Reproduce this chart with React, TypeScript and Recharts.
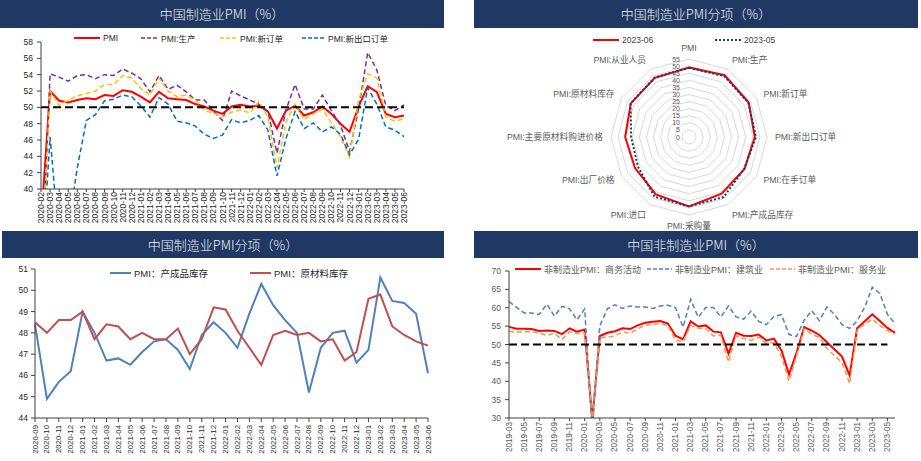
import React from 'react';
import {
  LineChart, Line, XAxis, YAxis, ReferenceLine,
  RadarChart, Radar, PolarGrid, PolarAngleAxis, PolarRadiusAxis,
} from 'recharts';

const FONT = '"Liberation Sans", Arial, "Noto Sans CJK SC", sans-serif';
const TITLE_FONT = '"Noto Sans CJK SC", "Liberation Sans", sans-serif';

// ---------- Panel 1: 中国制造业PMI ----------
const months1 = [
  '2020-02', '2020-03', '2020-04', '2020-05', '2020-06', '2020-07', '2020-08', '2020-09', '2020-10', '2020-11', '2020-12',
  '2021-01', '2021-02', '2021-03', '2021-04', '2021-05', '2021-06', '2021-07', '2021-08', '2021-09', '2021-10', '2021-11', '2021-12',
  '2022-01', '2022-02', '2022-03', '2022-04', '2022-05', '2022-06', '2022-07', '2022-08', '2022-09', '2022-10', '2022-11', '2022-12',
  '2023-01', '2023-02', '2023-03', '2023-04', '2023-05', '2023-06',
];
const pmi1 = [35.7, 52.0, 50.8, 50.6, 50.9, 51.1, 51.0, 51.5, 51.4, 52.1, 51.9, 51.3, 50.6, 51.9, 51.1, 51.0, 50.9, 50.4, 50.1, 49.6, 49.2, 50.1, 50.3, 50.1, 50.2, 49.5, 47.4, 49.6, 50.2, 49.0, 49.4, 50.1, 49.2, 48.0, 47.0, 50.1, 52.6, 51.9, 49.2, 48.8, 49.0];
const prod1 = [27.8, 54.1, 53.7, 53.2, 53.9, 54.0, 53.5, 54.0, 53.9, 54.7, 54.2, 53.5, 51.9, 53.9, 52.2, 52.7, 51.9, 50.9, 50.9, 49.5, 48.4, 52.0, 51.4, 50.9, 50.4, 49.5, 44.4, 49.7, 52.8, 49.8, 49.8, 51.5, 49.6, 47.8, 44.6, 49.8, 56.7, 54.6, 50.2, 49.6, 50.3];
const order1 = [29.3, 52.0, 50.2, 50.9, 51.4, 51.7, 52.0, 52.8, 52.8, 53.9, 53.6, 52.3, 51.5, 53.6, 52.0, 51.3, 51.5, 50.9, 49.6, 49.3, 48.8, 49.4, 49.7, 49.3, 50.7, 48.8, 42.6, 48.2, 50.4, 48.5, 49.2, 49.8, 48.1, 46.4, 43.9, 50.9, 54.1, 53.6, 48.8, 48.3, 48.6];
const export1 = [28.7, 46.4, 33.5, 35.3, 42.6, 48.4, 49.1, 50.8, 51.0, 51.5, 51.3, 50.2, 48.8, 51.2, 50.4, 48.3, 48.1, 47.7, 46.7, 46.2, 46.6, 48.5, 48.1, 48.4, 49.0, 47.2, 41.6, 46.2, 49.5, 47.4, 48.1, 47.0, 47.6, 46.7, 44.2, 46.1, 52.4, 50.4, 47.6, 47.2, 46.4];
const yTicks1 = [40, 42, 44, 46, 48, 50, 52, 54, 56, 58];

// ---------- Panel 2: 中国制造业PMI分项 (radar) ----------
const radarCats = ['PMI', 'PMI:生产', 'PMI:新订单', 'PMI:新出口订单', 'PMI:在手订单', 'PMI:产成品库存', 'PMI:采购量', 'PMI:进口', 'PMI:出厂价格', 'PMI:主要原材料购进价格', 'PMI:原材料库存', 'PMI:从业人员'];
const radarJun = [49.0, 50.3, 48.6, 46.4, 45.2, 46.1, 49.0, 46.8, 43.9, 45.0, 47.4, 48.2];
const radarMay = [48.8, 49.6, 48.3, 47.2, 44.9, 48.9, 48.9, 48.6, 41.6, 40.8, 47.6, 48.4];
const radarTicks = [0, 5, 10, 15, 20, 25, 30, 35, 40, 45, 50, 55];

// ---------- Panel 3: 产成品库存 / 原材料库存 ----------
const months3 = [
  '2020-09', '2020-10', '2020-11', '2020-12',
  '2021-01', '2021-02', '2021-03', '2021-04', '2021-05', '2021-06', '2021-07', '2021-08', '2021-09', '2021-10', '2021-11', '2021-12',
  '2022-01', '2022-02', '2022-03', '2022-04', '2022-05', '2022-06', '2022-07', '2022-08', '2022-09', '2022-10', '2022-11', '2022-12',
  '2023-01', '2023-02', '2023-03', '2023-04', '2023-05', '2023-06',
];
const finished3 = [48.4, 44.9, 45.7, 46.2, 49.0, 48.0, 46.7, 46.8, 46.5, 47.1, 47.6, 47.7, 47.2, 46.3, 47.9, 48.5, 48.0, 47.3, 48.9, 50.3, 49.3, 48.6, 48.0, 45.2, 47.3, 48.0, 48.1, 46.6, 47.2, 50.6, 49.5, 49.4, 48.9, 46.1];
const raw3 = [48.5, 48.0, 48.6, 48.6, 49.0, 47.7, 48.4, 48.3, 47.7, 48.0, 47.7, 47.7, 48.2, 47.0, 47.7, 49.2, 49.1, 48.1, 47.3, 46.5, 47.9, 48.1, 47.9, 48.0, 47.6, 47.7, 46.7, 47.1, 49.6, 49.8, 48.3, 47.9, 47.6, 47.4];
const yTicks3 = [44, 45, 46, 47, 48, 49, 50, 51];

// ---------- Panel 4: 中国非制造业PMI ----------
const months4 = [
  '2019-03', '2019-04', '2019-05', '2019-06', '2019-07', '2019-08', '2019-09', '2019-10', '2019-11', '2019-12',
  '2020-01', '2020-02', '2020-03', '2020-04', '2020-05', '2020-06', '2020-07', '2020-08', '2020-09', '2020-10', '2020-11', '2020-12',
  '2021-01', '2021-02', '2021-03', '2021-04', '2021-05', '2021-06', '2021-07', '2021-08', '2021-09', '2021-10', '2021-11', '2021-12',
  '2022-01', '2022-02', '2022-03', '2022-04', '2022-05', '2022-06', '2022-07', '2022-08', '2022-09', '2022-10', '2022-11', '2022-12',
  '2023-01', '2023-02', '2023-03', '2023-04', '2023-05', '2023-06',
];
const business4 = [54.8, 54.3, 54.3, 54.2, 53.7, 53.8, 53.7, 52.8, 54.4, 53.5, 54.1, 29.6, 52.3, 53.2, 53.6, 54.4, 54.2, 55.2, 55.9, 56.2, 56.4, 55.7, 52.4, 51.4, 56.3, 54.9, 55.2, 53.5, 53.3, 47.5, 53.2, 52.4, 52.3, 52.7, 51.1, 51.6, 48.4, 41.9, 47.8, 54.7, 53.8, 52.6, 50.6, 48.7, 46.7, 41.6, 54.4, 56.3, 58.2, 56.4, 54.5, 53.2];
const construction4 = [61.7, 60.1, 58.6, 58.6, 58.2, 61.0, 57.7, 60.4, 59.7, 56.7, 59.7, 26.6, 55.1, 59.7, 60.8, 59.8, 60.5, 60.2, 60.2, 59.8, 60.5, 60.7, 60.0, 54.7, 62.3, 57.4, 60.1, 60.1, 57.5, 60.5, 57.5, 56.9, 59.1, 56.3, 55.4, 57.6, 58.1, 52.7, 52.2, 56.6, 59.2, 56.5, 60.2, 58.2, 55.4, 54.4, 56.4, 60.2, 65.6, 63.9, 58.2, 55.7];
const services4 = [53.6, 53.3, 53.5, 53.5, 53.1, 52.5, 53.0, 51.4, 53.5, 53.0, 53.1, 30.1, 51.8, 52.1, 52.3, 53.4, 53.1, 54.3, 55.2, 55.5, 55.7, 55.2, 51.1, 50.8, 55.2, 54.4, 54.3, 52.3, 52.5, 45.2, 52.4, 51.6, 51.1, 52.0, 50.3, 50.5, 46.7, 40.0, 47.1, 54.3, 52.8, 51.9, 48.9, 47.0, 45.1, 39.4, 54.0, 55.6, 56.9, 55.1, 53.8, 52.8];
const yTicks4 = [30, 35, 40, 45, 50, 55, 60, 65, 70];

// ---------- data tables ----------
const data1 = months1.map((m, i) => ({ m, pmi: pmi1[i], prod: prod1[i], order: order1[i], exp: export1[i] }));
const dataRadar = radarCats.map((c, i) => ({ c, jun: radarJun[i], may: radarMay[i] }));
const data3 = months3.map((m, i) => ({ m, fin: finished3[i], raw: raw3[i] }));
const data4 = months4.map((m, i) => ({ m, biz: business4[i], con: construction4[i], srv: services4[i] }));

// ---------- helpers ----------
const TitleBar = ({ left, top, width, height, text }: { left: number; top: number; width: number; height: number; text: string }) => (
  <div
    style={{
      position: 'absolute', left, top, width, height, background: '#1F3864', color: '#F2F2F2',
      fontFamily: TITLE_FONT, fontSize: 13, lineHeight: `${height}px`, textAlign: 'center', fontWeight: 300,
    }}
  >
    {text}
  </div>
);

type LegItem = { x: number; w: number; label: string; color: string; dash?: string; sw?: number };
const Legend = ({ top, items, fontSize, color }: { top: number; items: LegItem[]; fontSize: number; color: string }) => (
  <>
    {items.map((it) => (
      <div
        key={it.label}
        style={{
          position: 'absolute', left: it.x, top: top - 8, height: 16, display: 'flex', alignItems: 'center',
          whiteSpace: 'nowrap', fontSize, color, fontFamily: FONT,
        }}
      >
        <svg width={it.w} height={4} style={{ marginRight: 3, display: 'block' }}>
          <line x1={0} y1={2} x2={it.w} y2={2} stroke={it.color} strokeWidth={it.sw ?? 2} strokeDasharray={it.dash} />
        </svg>
        <span>{it.label}</span>
      </div>
    ))}
  </>
);

const rotTick = (fs: number, fill: string) => (props: any) => {
  const { x, y, payload } = props;
  return (
    <text
      x={x} y={y} transform={`rotate(-90 ${x} ${y})`} textAnchor="end" dominantBaseline="central"
      fontSize={fs} fill={fill} fontFamily={FONT}
    >
      {payload.value}
    </text>
  );
};

const AXIS = '#404040';

export default function App() {
  return (
    <div style={{ position: 'absolute', left: 0, top: 0, width: 921, height: 461, background: '#fff', overflow: 'hidden' }}>
      {/* Panel 1 */}
      <TitleBar left={0} top={0} width={444} height={28} text="中国制造业PMI（%）" />
      <div style={{ position: 'absolute', left: 0, top: 28 }}>
        <LineChart width={444} height={202} data={data1} margin={{ top: 14, right: 40, bottom: 3, left: 11 }}>
          <XAxis
            dataKey="m" interval={0} height={38} tickSize={3} tickMargin={0}
            tick={rotTick(8.5, '#262626')} axisLine={{ stroke: AXIS }} tickLine={{ stroke: AXIS }}
          />
          <YAxis
            domain={[40, 58]} ticks={yTicks1} allowDataOverflow width={30} tickSize={4} tickMargin={4}
            tick={{ fontSize: 8.5, fill: '#262626', fontFamily: FONT }} axisLine={{ stroke: AXIS }} tickLine={{ stroke: AXIS }}
          />
          <Line dataKey="pmi" stroke="#FF0000" strokeWidth={2} dot={false} isAnimationActive={false} />
          <Line dataKey="prod" stroke="#7030A0" strokeWidth={1.5} strokeDasharray="5 3" dot={false} isAnimationActive={false} />
          <Line dataKey="order" stroke="#FFC000" strokeWidth={1.5} strokeDasharray="5 3" dot={false} isAnimationActive={false} />
          <Line dataKey="exp" stroke="#0070C0" strokeWidth={1.5} strokeDasharray="5 3" dot={false} isAnimationActive={false} />
          <ReferenceLine y={50} stroke="#000" strokeWidth={2} strokeDasharray="8 4" />
        </LineChart>
      </div>
      <Legend
        top={38} fontSize={8.5} color="#262626"
        items={[
          { x: 74, w: 26, label: 'PMI', color: '#FF0000' },
          { x: 141, w: 17, label: 'PMI:生产', color: '#7030A0', dash: '4 2', sw: 1.5 },
          { x: 220, w: 17, label: 'PMI:新订单', color: '#FFC000', dash: '4 2', sw: 1.5 },
          { x: 302, w: 23, label: 'PMI:新出口订单', color: '#0070C0', dash: '4 2', sw: 1.5 },
        ]}
      />

      {/* Panel 2 */}
      <TitleBar left={474} top={0} width={444} height={28} text="中国制造业PMI分项（%）" />
      <div style={{ position: 'absolute', left: 460, top: 28 }}>
        <RadarChart width={461} height={202} data={dataRadar} cx={229} cy={109} outerRadius={78} margin={{ top: 0, right: 0, bottom: 0, left: 0 }}>
          <PolarGrid gridType="polygon" radialLines={false} stroke="#D9D9D9" />
          <PolarAngleAxis
            dataKey="c" axisLine={false} tickLine={false}
            tick={{ fontSize: 8.7, fill: '#595959', fontFamily: FONT }}
          />
          <PolarRadiusAxis
            angle={90} domain={[0, 55]} ticks={radarTicks} tickCount={12} axisLine={false} tickLine={false}
            tick={(p: any) => (
              <text x={p.x - 9} y={p.y} textAnchor="end" dominantBaseline="central" fontSize={7} fill="#595959" fontFamily={FONT}>
                {p.payload.value}
              </text>
            )}
          />
          <Radar dataKey="jun" stroke="#FF0000" strokeWidth={2} fill="none" fillOpacity={0} dot={false} isAnimationActive={false} />
          <Radar dataKey="may" stroke="#1F3864" strokeWidth={2} strokeDasharray="2 2" fill="none" fillOpacity={0} dot={false} isAnimationActive={false} />
        </RadarChart>
      </div>
      <Legend
        top={40} fontSize={8.5} color="#404040"
        items={[
          { x: 593, w: 26, label: '2023-06', color: '#FF0000' },
          { x: 715, w: 26, label: '2023-05', color: '#1F3864', dash: '2 2' },
        ]}
      />

      {/* Panel 3 */}
      <TitleBar left={2} top={231} width={442} height={27} text="中国制造业PMI分项（%）" />
      <div style={{ position: 'absolute', left: 0, top: 258 }}>
        <LineChart width={444} height={203} data={data3} margin={{ top: 11, right: 16, bottom: 3, left: 9 }}>
          <XAxis
            dataKey="m" interval={0} height={40} tickSize={4} tickMargin={3}
            tick={rotTick(7.8, '#262626')} axisLine={{ stroke: AXIS }} tickLine={{ stroke: AXIS }}
          />
          <YAxis
            domain={[44, 51]} ticks={yTicks3} allowDataOverflow width={26} tickSize={4} tickMargin={3}
            tick={{ fontSize: 8.5, fill: '#262626', fontFamily: FONT }} axisLine={{ stroke: AXIS }} tickLine={{ stroke: AXIS }}
          />
          <Line dataKey="fin" stroke="#4F81BD" strokeWidth={2} dot={false} isAnimationActive={false} />
          <Line dataKey="raw" stroke="#C0504D" strokeWidth={2} dot={false} isAnimationActive={false} />
        </LineChart>
      </div>
      <Legend
        top={273} fontSize={9.5} color="#262626"
        items={[
          { x: 110, w: 21, label: 'PMI：产成品库存', color: '#4F81BD' },
          { x: 250, w: 21, label: 'PMI：原材料库存', color: '#C0504D' },
        ]}
      />

      {/* Panel 4 */}
      <TitleBar left={474} top={231} width={444} height={27} text="中国非制造业PMI（%）" />
      <div style={{ position: 'absolute', left: 460, top: 258 }}>
        <LineChart width={461} height={203} data={data4} margin={{ top: 13, right: 26, bottom: 3, left: 22 }}>
          <XAxis
            dataKey="m" interval={1} height={40} tickSize={3} tickMargin={1}
            tick={rotTick(8.2, '#595959')} axisLine={{ stroke: AXIS }} tickLine={{ stroke: AXIS }}
          />
          <YAxis
            domain={[30, 70]} ticks={yTicks4} allowDataOverflow width={27} tickSize={4} tickMargin={4}
            tick={{ fontSize: 8.5, fill: '#595959', fontFamily: FONT }} axisLine={{ stroke: AXIS }} tickLine={{ stroke: AXIS }}
          />
          <Line dataKey="biz" stroke="#FF0000" strokeWidth={2} dot={false} isAnimationActive={false} />
          <Line dataKey="con" stroke="#4F81BD" strokeWidth={1.5} strokeDasharray="5 3" dot={false} isAnimationActive={false} />
          <Line dataKey="srv" stroke="#F79646" strokeWidth={1.5} strokeDasharray="5 3" dot={false} isAnimationActive={false} />
          <ReferenceLine
            segment={[{ x: '2019-03', y: 50 }, { x: '2023-05', y: 50 }]}
            stroke="#000" strokeWidth={2} strokeDasharray="8 4"
          />
        </LineChart>
      </div>
      <Legend
        top={269} fontSize={9} color="#595959"
        items={[
          { x: 515, w: 26, label: '非制造业PMI：商务活动', color: '#FF0000' },
          { x: 647, w: 25, label: '非制造业PMI：建筑业', color: '#4F81BD', dash: '4 2', sw: 1.5 },
          { x: 770, w: 25, label: '非制造业PMI：服务业', color: '#F79646', dash: '4 2', sw: 1.5 },
        ]}
      />
    </div>
  );
}
